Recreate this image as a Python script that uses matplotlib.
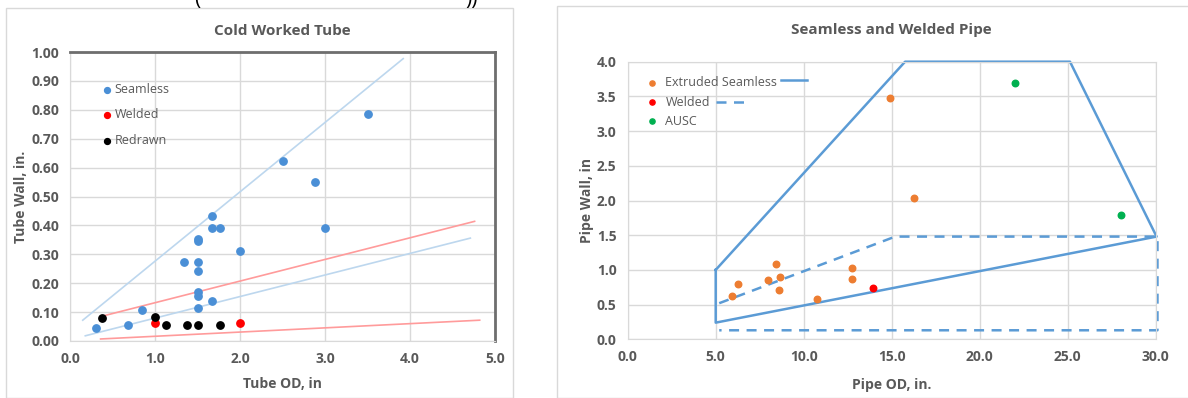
import matplotlib.pyplot as plt
from matplotlib.patches import Rectangle
from matplotlib.lines import Line2D

plt.rcParams['font.family'] = ['Open Sans', 'DejaVu Sans']

# ---- left chart data: cold worked tube ----
seam_od = [0.30, 0.68, 0.85, 1.34, 1.50, 1.50, 1.50, 1.50, 1.50, 1.50, 1.50,
           1.67, 1.67, 1.67, 1.76, 2.00, 2.50, 2.88, 3.00, 3.50]
seam_wall = [0.046, 0.056, 0.106, 0.273, 0.273, 0.241, 0.352, 0.345, 0.170, 0.154, 0.114,
             0.138, 0.392, 0.431, 0.392, 0.311, 0.622, 0.549, 0.391, 0.785]
weld_od = [1.0, 2.0]
weld_wall = [0.062, 0.062]
redr_od = [0.38, 1.00, 1.13, 1.38, 1.51, 1.76]
redr_wall = [0.078, 0.083, 0.057, 0.054, 0.057, 0.055]

# limit lines (start, end)
blue_hi_x = [0.15, 3.92]
blue_hi_y = [0.072, 0.977]
blue_lo_x = [0.18, 4.71]
blue_lo_y = [0.018, 0.356]
red_hi_x = [0.38, 4.76]
red_hi_y = [0.086, 0.414]
red_lo_x = [0.36, 4.82]
red_lo_y = [0.007, 0.072]

# ---- right chart data: seamless and welded pipe ----
ext_od = [5.91, 6.27, 7.95, 8.43, 8.64, 8.60, 10.74, 12.73, 12.73, 14.90, 16.25]
ext_wall = [0.63, 0.80, 0.86, 1.09, 0.90, 0.71, 0.58, 1.03, 0.87, 3.47, 2.04]
pw_od = [13.96]
pw_wall = [0.74]
ausc_od = [21.99, 28.03]
ausc_wall = [3.70, 1.79]

solid_x = [5.0, 15.76, 25.13, 30.05, 5.0, 5.0]
solid_y = [1.0, 4.0, 4.0, 1.48, 0.24, 1.0]
dash_x = [5.2, 15.2, 30.1, 30.1, 5.2]
dash_y = [0.52, 1.48, 1.48, 0.13, 0.13]

grey = '#595959'
gridc = '#d9d9d9'

fig = plt.figure(figsize=(11.88, 3.98), dpi=100)

# chart frames
fig.patches.append(Rectangle((6/1188, 0), 507/1188, 1-8/398, transform=fig.transFigure,
                             fill=False, ec='#d9d9d9', lw=1))
fig.patches.append(Rectangle((557/1188, 0), 640/1188, 1-6/398, transform=fig.transFigure,
                             fill=False, ec='#d9d9d9', lw=1))
# text cut off at the very top, as in the reference
fig.text(197/1188, 1.0, '(', fontsize=15, color='black', ha='center', va='center')
fig.text(472/1188, 1.0, '))', fontsize=15, color='black', ha='center', va='center')


def style(ax):
    ax.grid(True, color=gridc, lw=1)
    ax.set_axisbelow(True)
    ax.tick_params(length=0, labelsize=10, labelcolor=grey, pad=8)
    for lab in ax.get_xticklabels() + ax.get_yticklabels():
        lab.set_fontweight('bold')
    for s in ax.spines.values():
        s.set_color(gridc)


# ---- left ----
ax1 = fig.add_axes([70/1188, 1-341/398, 425/1188, 289/398])
ax1.plot(blue_hi_x, blue_hi_y, color='#bdd7ee', lw=1.2)
ax1.plot(blue_lo_x, blue_lo_y, color='#bdd7ee', lw=1.2)
ax1.plot(red_hi_x, red_hi_y, color='#ff9b9b', lw=1.2)
ax1.plot(red_lo_x, red_lo_y, color='#ff9b9b', lw=1.2)
ax1.scatter(seam_od, seam_wall, s=28, color='#4a8fd6', zorder=3, label='Seamless')
ax1.scatter(weld_od, weld_wall, s=28, color='#ff0000', zorder=3, label='Welded')
ax1.scatter(redr_od, redr_wall, s=28, color='black', zorder=3, label='Redrawn')
ax1.set_xlim(0, 5)
ax1.set_ylim(0, 1)
ax1.set_xticks([0, 1, 2, 3, 4, 5])
ax1.set_xticklabels(['0.0', '1.0', '2.0', '3.0', '4.0', '5.0'])
ax1.set_yticks([i/10 for i in range(11)])
ax1.set_yticklabels(['%.2f' % (i/10) for i in range(11)])
style(ax1)
ax1.spines['top'].set_color('#6e6e6e')
ax1.spines['right'].set_color('#6e6e6e')
ax1.spines['top'].set_linewidth(2)
ax1.spines['right'].set_linewidth(2)
ax1.set_title('Cold Worked Tube', fontsize=11, fontweight='bold', color=grey, pad=12)
ax1.set_xlabel('Tube OD, in', fontsize=10, fontweight='bold', color=grey, labelpad=8)
ax1.set_ylabel('Tube Wall, in.', fontsize=10, fontweight='bold', color=grey, labelpad=2)
ax1.legend(loc='upper left', bbox_to_anchor=(0.055, 0.915), frameon=False, fontsize=9,
           labelcolor=grey, handletextpad=0.0, handlelength=1.2, labelspacing=1.0,
           borderpad=0, scatterpoints=1, markerscale=0.8)

# ---- right ----
ax2 = fig.add_axes([627.7/1188, 1-339.3/398, 528/1188, 277.6/398])
ax2.plot(solid_x, solid_y, color='#5b9bd5', lw=1.8, clip_on=False)
ax2.plot(dash_x, dash_y, color='#5b9bd5', lw=1.8, ls=(0, (4, 3)), clip_on=False)
ax2.scatter(ext_od, ext_wall, s=22, color='#ed7d31', zorder=3, label='Extruded Seamless')
ax2.scatter(pw_od, pw_wall, s=22, color='#ff0000', zorder=3, label='Welded')
ax2.scatter(ausc_od, ausc_wall, s=22, color='#00b050', zorder=3, label='AUSC')
ax2.set_xlim(0, 30)
ax2.set_ylim(0, 4)
ax2.set_xticks([0, 5, 10, 15, 20, 25, 30])
ax2.set_xticklabels(['%.1f' % v for v in [0, 5, 10, 15, 20, 25, 30]])
ax2.set_yticks([0, 0.5, 1, 1.5, 2, 2.5, 3, 3.5, 4])
ax2.set_yticklabels(['%.1f' % v for v in [0, 0.5, 1, 1.5, 2, 2.5, 3, 3.5, 4]])
style(ax2)
ax2.set_title('Seamless and Welded Pipe', fontsize=11, fontweight='bold', color=grey, pad=20)
ax2.set_xlabel('Pipe OD, in.', fontsize=10, fontweight='bold', color=grey, labelpad=10)
ax2.set_ylabel('Pipe Wall, in', fontsize=10, fontweight='bold', color=grey, labelpad=2)
ax2.legend(loc='upper left', bbox_to_anchor=(0.01, 0.97), frameon=False, fontsize=9,
           labelcolor=grey, handletextpad=0.1, labelspacing=0.5, borderpad=0,
           scatterpoints=1, markerscale=0.8)
# legend line samples for the two envelopes
ax2.add_line(Line2D([0.29, 0.34], [0.935, 0.935], transform=ax2.transAxes,
                    color='#5b9bd5', lw=1.8))
ax2.add_line(Line2D([0.167, 0.232], [0.855, 0.855], transform=ax2.transAxes,
                    color='#5b9bd5', lw=1.8, ls=(0, (4, 3))))

fig.savefig('out.png', dpi=100)
